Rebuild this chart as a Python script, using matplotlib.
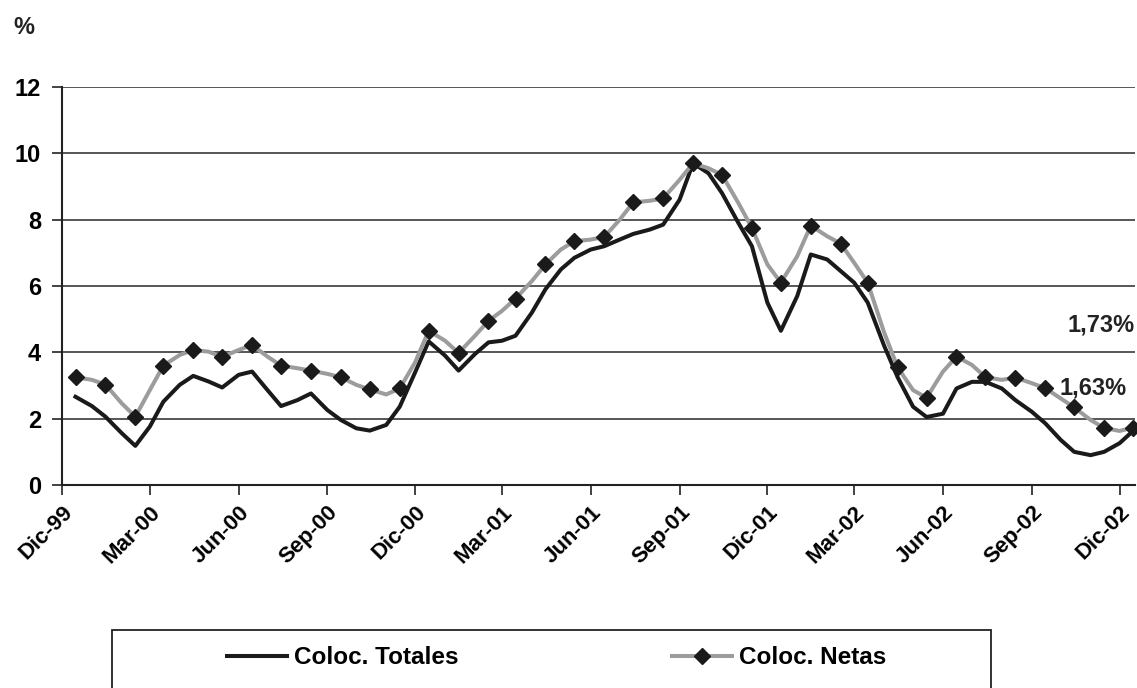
import datetime as dt
import matplotlib
matplotlib.use("Agg")
import matplotlib.pyplot as plt
import matplotlib.patches as mpatches

plt.rcParams['font.family'] = ['Liberation Sans', 'DejaVu Sans']
plt.rcParams['font.weight'] = 'bold'

# fechas quincenales: 15-Dic-99 ... 15-Dic-02
fechas = [dt.date(1999, 12, 15)]
for anio in (2000, 2001, 2002):
    for mes in range(1, 13):
        fechas += [dt.date(anio, mes, 1), dt.date(anio, mes, 15)]

totales = [2.66,
           2.38, 2.06, 1.56, 1.18, 1.76, 2.51, 3.02, 3.29, 3.12, 2.94, 3.32, 3.42,
           2.86, 2.38, 2.56, 2.76, 2.26, 1.96, 1.71, 1.64, 1.81, 2.36, 3.40, 4.33,
           3.90, 3.45, 3.95, 4.30, 4.35, 4.50, 5.20, 5.90, 6.50, 6.85, 7.10, 7.20,
           7.40, 7.57, 7.70, 7.85, 8.60, 9.70, 9.40, 8.80, 7.90, 7.20, 5.50, 4.65,
           5.70, 6.95, 6.80, 6.45, 6.10, 5.50, 4.20, 3.25, 2.36, 2.05, 2.15, 2.91,
           3.11, 3.11, 2.91, 2.56, 2.21, 1.86, 1.36, 1.00, 0.90, 1.00, 1.26, 1.63]

netas = [3.25,
         3.17, 3.03, 2.46, 2.06, 2.86, 3.60, 3.92, 4.07, 4.02, 3.86, 4.07, 4.22,
         3.87, 3.60, 3.52, 3.45, 3.35, 3.25, 3.02, 2.88, 2.73, 2.91, 3.70, 4.65,
         4.35, 3.98, 4.50, 4.95, 5.25, 5.62, 6.15, 6.65, 7.10, 7.35, 7.40, 7.48,
         8.00, 8.52, 8.57, 8.64, 9.20, 9.70, 9.55, 9.35, 8.50, 7.75, 6.65, 6.10,
         6.90, 7.82, 7.50, 7.28, 6.70, 6.10, 4.60, 3.55, 2.86, 2.63, 3.42, 3.87,
         3.62, 3.25, 3.17, 3.24, 3.07, 2.92, 2.61, 2.34, 1.96, 1.72, 1.63, 1.73]

ticks_fechas = [dt.date(1999, 12, 1)] + [dt.date(a, m, 1) for a in (2000, 2001, 2002) for m in (3, 6, 9, 12)]
ticks_labels = ['Dic-99', 'Mar-00', 'Jun-00', 'Sep-00', 'Dic-00', 'Mar-01', 'Jun-01',
                'Sep-01', 'Dic-01', 'Mar-02', 'Jun-02', 'Sep-02', 'Dic-02']

W, H = 1137, 688
fig = plt.figure(figsize=(W / 100, H / 100), dpi=100)
ax = fig.add_axes([62 / W, 1 - 485 / H, (1135 - 62) / W, (485 - 87) / H])

ax.plot(fechas, totales, color='#1a1a1a', lw=2.9, solid_joinstyle='round',
        label='Coloc. Totales', zorder=3)
ax.plot(fechas, netas, color='#9c9c9c', lw=2.9, solid_joinstyle='round',
        marker='D', markevery=2, ms=8, mfc='#1a1a1a', mec='#1a1a1a',
        label='Coloc. Netas', zorder=4, clip_on=False)

ax.set_ylim(0, 12)
ax.set_yticks(range(0, 13, 2))
ax.set_xlim(dt.date(1999, 12, 1), dt.date(2002, 12, 17))
ax.set_xticks(ticks_fechas)
ax.set_xticklabels(ticks_labels, rotation=45, ha='right', va='top',
                   rotation_mode='anchor')

ax.grid(axis='y', color='#3a3a3a', lw=1.2)
ax.set_axisbelow(True)
for s in ('top', 'right'):
    ax.spines[s].set_visible(False)
for s in ('left', 'bottom'):
    ax.spines[s].set_color('#222222')
    ax.spines[s].set_linewidth(1.5)
ax.tick_params(axis='y', direction='out', length=7, width=1.2, pad=8,
               labelsize=17, color='#222222')
ax.tick_params(axis='x', direction='out', length=7, width=1.2, pad=5,
               labelsize=16, color='#222222')

ax.text(1.0, 4.82, '1,73%', transform=ax.get_yaxis_transform(), ha='right',
        va='center', fontsize=17, color='#222222')
ax.text(0.9925, 2.92, '1,63%', transform=ax.get_yaxis_transform(), ha='right',
        va='center', fontsize=17, color='#222222')

fig.text(13 / W, 1 - 28 / H, '%', ha='left', va='center', fontsize=17, color='#222222')

# caja de la leyenda (borde inferior fuera de la imagen)
caja = mpatches.Rectangle((112 / W, -0.1), (991 - 112) / W, 0.1 + 1 - 630 / H,
                          transform=fig.transFigure, fill=False,
                          ec='#222222', lw=1.3)
fig.add_artist(caja)
fig.legend(loc='center left', bbox_to_anchor=(215 / W, 1 - 658 / H), ncol=2,
           frameon=False, borderpad=0, fontsize=17.5, handlelength=2.45,
           handletextpad=0.3, columnspacing=8.8)

fig.savefig('out.png', dpi=100)
